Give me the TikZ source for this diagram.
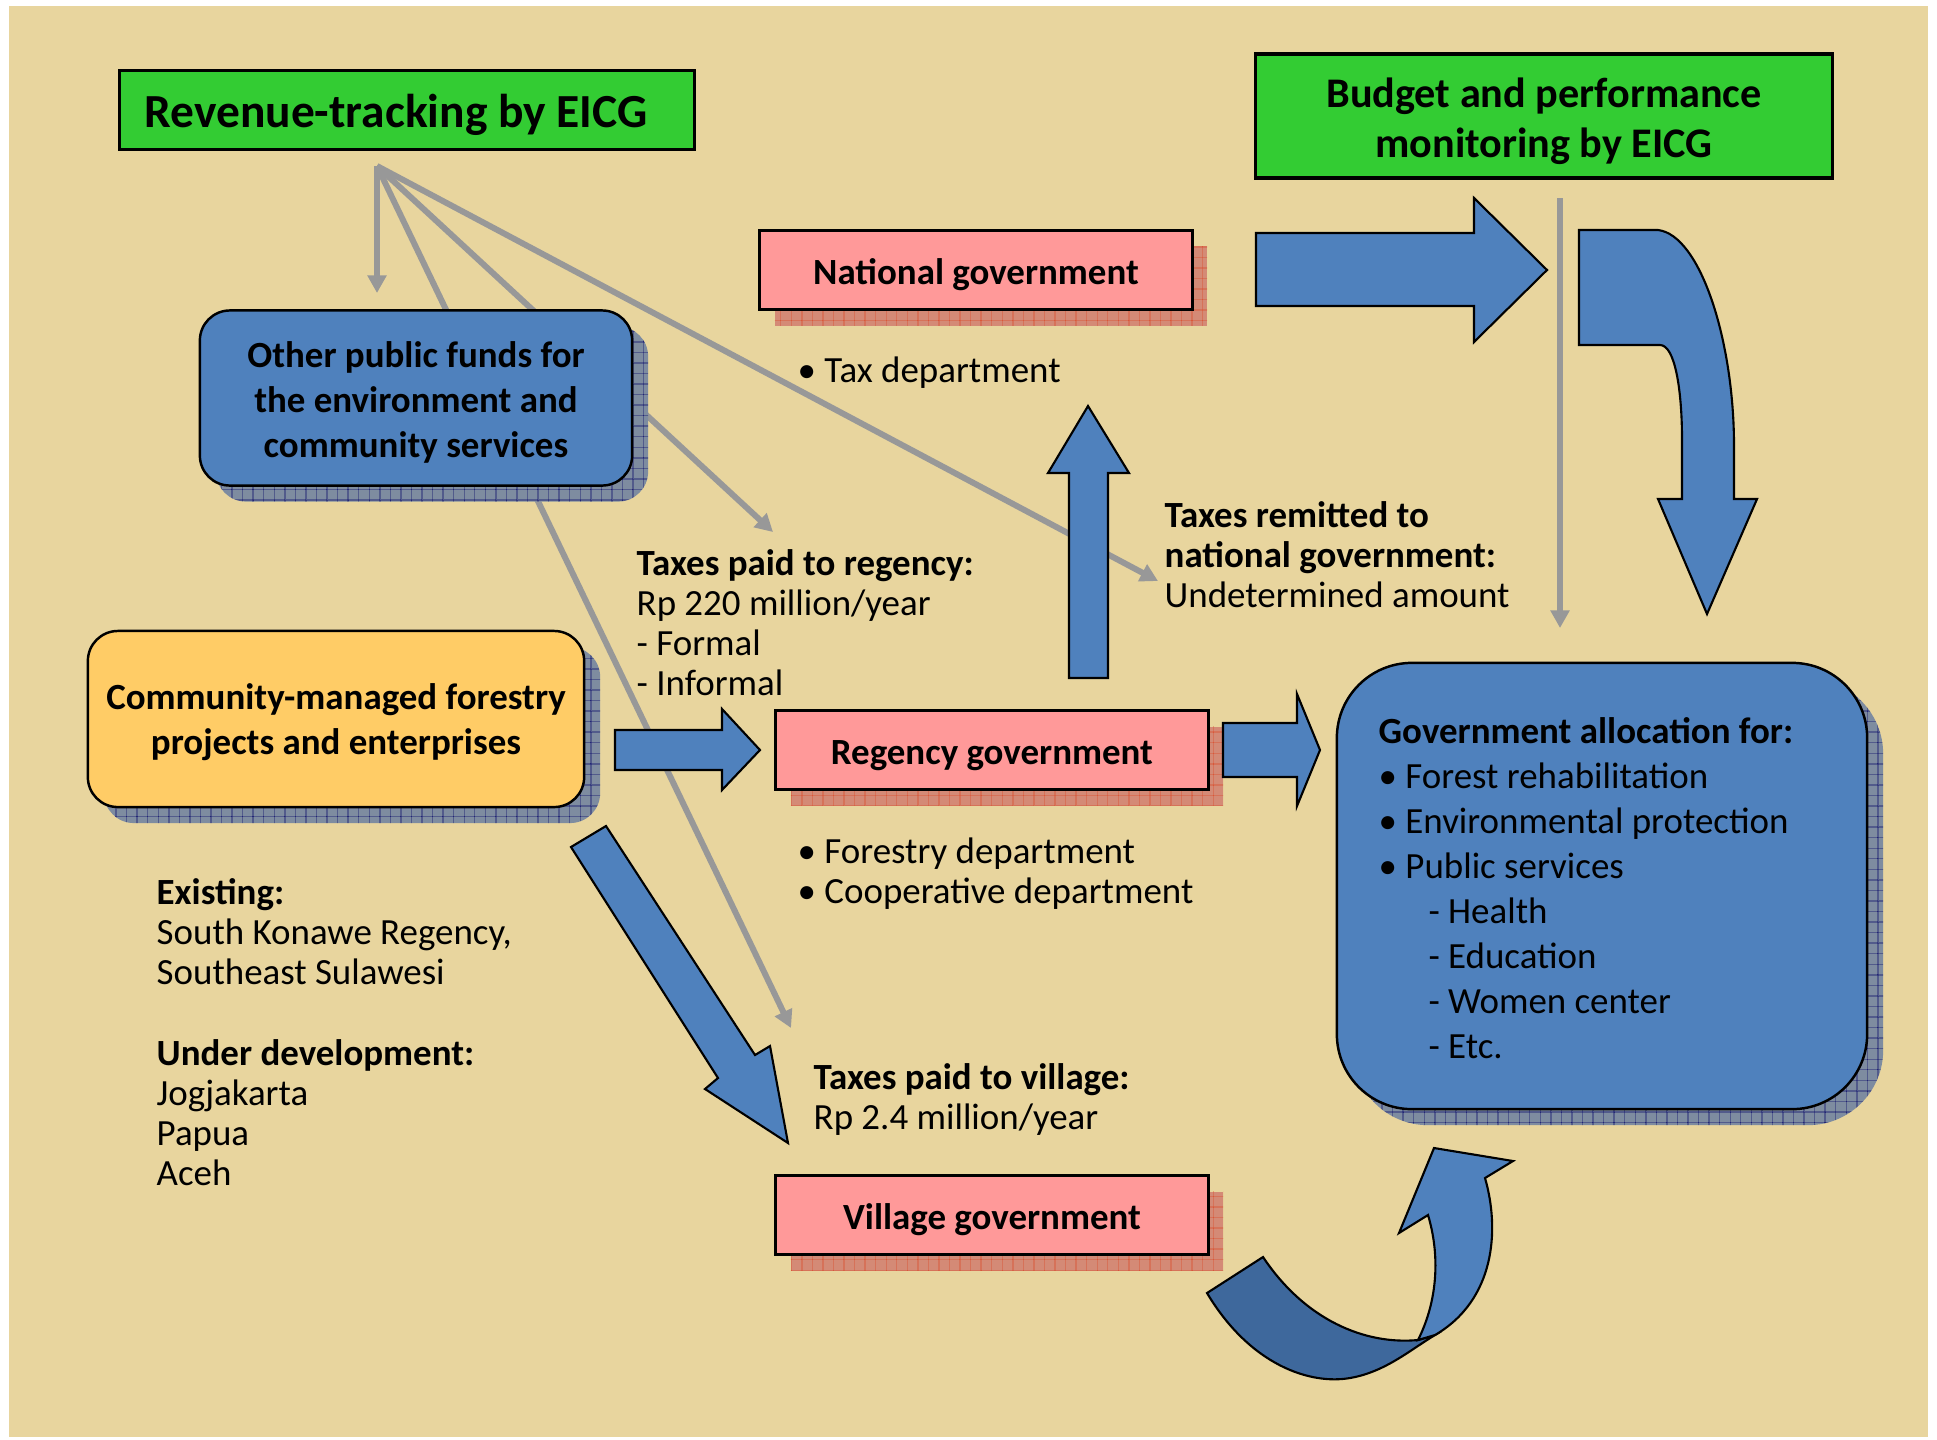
\documentclass[tikz,border=0pt]{standalone}
\usepackage{fontspec}
\setmainfont{Carlito}
\usetikzlibrary{arrows.meta,shadows,patterns}
\definecolor{papyrus}{RGB}{232,213,158}
\definecolor{eicggreen}{RGB}{51,204,51}
\definecolor{govpink}{RGB}{255,153,153}
\definecolor{fundblue}{RGB}{79,129,189}
\definecolor{backblue}{RGB}{62,104,156}
\definecolor{commorange}{RGB}{255,204,102}
\definecolor{trackgray}{RGB}{152,152,152}
\definecolor{pinkshadow}{RGB}{212,138,118}
\definecolor{blueshadow}{RGB}{126,140,160}

\begin{document}
\begin{tikzpicture}[x=0.01cm,y=-0.01cm]
	 \tikzstyle{green box}=[draw,line width=0.9pt,fill=eicggreen,inner sep=0pt,align=center]
	 \tikzstyle{gov box}=[draw,line width=0.9pt,fill=govpink,minimum width=4.32cm,minimum height=0.79cm,inner sep=0pt,font=\bfseries\fontsize{10.5}{12.7}\selectfont,execute at begin node={\rule{0pt}{10.1pt}},drop shadow={shadow xshift=0.15cm,shadow yshift=-0.16cm,fill=pinkshadow,opacity=1},drop shadow={shadow xshift=0.15cm,shadow yshift=-0.16cm,pattern=grid,pattern color=red!45!brown,opacity=0.35}]
	 \tikzstyle{fund box}=[draw,line width=0.7pt,rounded corners=0.3cm,inner sep=0pt,drop shadow={shadow xshift=0.16cm,shadow yshift=-0.16cm,fill=blueshadow,opacity=1},drop shadow={shadow xshift=0.16cm,shadow yshift=-0.16cm,pattern=grid,pattern color=blue!40!black,opacity=0.35}]
	 \tikzstyle{box text}=[inner sep=0pt,align=center,font=\bfseries\fontsize{10.5}{12.7}\selectfont]
	 \tikzstyle{note}=[inner sep=0pt,anchor=north west,align=left,font=\fontsize{10.5}{11.4}\selectfont]
	 \tikzstyle{track}=[draw=trackgray,line width=1.7pt,-{Triangle[length=5pt,width=5.2pt]}]
	 \tikzstyle{block arrow}=[fill=fundblue,draw=black,line width=0.6pt]
	 \useasboundingbox (0,0) rectangle (1937,1439);
	 \fill[papyrus] (9,6) rectangle (1928,1437);
	 \coordinate (fork) at (377,166);
	 \coordinate (oth-in) at (377,293);
	 \coordinate (reg-in) at (773,532);
	 \coordinate (vil-in) at (791,1028);
	 \coordinate (nat-in) at (1158,581);
	 \coordinate (bud-out) at (1560,198);
	 \coordinate (alloc-in) at (1560,628);
	 \draw[track] (fork) -- (oth-in);
	 \draw[track] (fork) -- (reg-in);
	 \draw[track] (fork) -- (vil-in);
	 \draw[track] (fork) -- (nat-in);
	 \draw[track] (bud-out) -- (alloc-in);
	 \node[green box,minimum width=5.75cm,minimum height=0.79cm,font=\bfseries\fontsize{13.5}{16}\selectfont,execute at begin node={\rule{0pt}{12.3pt}}] (rev) at (407,110) {Revenue-tracking by EICG\hspace{0.22cm}};
	 \node[green box,minimum width=5.76cm,minimum height=1.24cm] (bud) at (1544,116) {};
	 \node[box text,font=\bfseries\fontsize{12}{14.2}\selectfont] (bud-txt) at (1544,121.5) {Budget and performance\\monitoring by EICG};
	 \node[gov box] (nat) at (976,270) {National government};
	 \node[gov box] (reg) at (992,750) {Regency government};
	 \node[gov box] (vil) at (992,1215) {Village government};
	 \node[fund box,fill=fundblue,minimum width=4.32cm,minimum height=1.75cm] (oth) at (416,398) {};
	 \node[box text] (oth-txt) at (416,402.5) {Other public funds for\\the environment and\\community services};
	 \node[fund box,fill=commorange,minimum width=4.96cm,minimum height=1.76cm] (com) at (336,719) {};
	 \node[box text] (com-txt) at (336,722) {Community-managed forestry\\projects and enterprises};
	 \node[fund box,fill=fundblue,rounded corners=0.75cm,minimum width=5.3cm,minimum height=4.46cm] (alloc) at (1602,886) {};
	 \filldraw[block arrow] (1256,233) -- (1474,233) -- (1474,198) -- (1547,270) -- (1474,342) -- (1474,306) -- (1256,306) -- cycle;
	 \filldraw[block arrow] (1579,230) -- (1658,230) .. controls (1700,235) and (1734,340) .. (1734,446) -- (1734,499) -- (1757,499) -- (1707,614) -- (1658,499) -- (1682,499) -- (1682,440) .. controls (1682,390) and (1675,345) .. (1660,345) -- (1579,345) -- cycle;
	 \filldraw[block arrow] (1069,678) -- (1069,473) -- (1048,473) -- (1088,406) -- (1129,473) -- (1108,473) -- (1108,678) -- cycle;
	 \filldraw[block arrow] (615,730) -- (722,730) -- (722,709) -- (760,750) -- (722,790) -- (722,770) -- (615,770) -- cycle;
	 \filldraw[block arrow] (1223,723) -- (1297,723) -- (1297,694) -- (1320,750) -- (1297,806) -- (1297,777) -- (1223,777) -- cycle;
	 \filldraw[block arrow] (571,847) -- (606,826) -- (755,1055) -- (770,1046) -- (788,1143) -- (705,1089) -- (718,1078) -- cycle;
	 \filldraw[block arrow,fill=backblue] (1207,1293) .. controls (1250,1365) and (1310,1385) .. (1350,1378) .. controls (1385,1372) and (1410,1350) .. (1435,1335) -- (1418,1340) .. controls (1365,1345) and (1305,1320) .. (1263,1257) -- cycle;
	 \filldraw[block arrow] (1418,1340) .. controls (1438,1300) and (1440,1255) .. (1428,1215) -- (1399,1233) -- (1434,1148) -- (1513,1161) -- (1485,1178) .. controls (1500,1230) and (1495,1300) .. (1435,1335) -- cycle;
	 \node[note] (natdep) at (797,356) {• Tax department};
	 \node[note] (regtax) at (636,549) {\textbf{Taxes paid to regency:}\\Rp 220 million/year\\- Formal\\- Informal};
	 \node[note] (nattax) at (1164,501) {\textbf{Taxes remitted to}\\\textbf{national government:}\\Undetermined amount};
	 \node[note] (regdep) at (797,837) {• Forestry department\\• Cooperative department};
	 \node[note] (viltax) at (813,1063) {\textbf{Taxes paid to village:}\\Rp 2.4 million/year};
	 \node[note] (sites) at (156,878) {\textbf{Existing:}\\South Konawe Regency,\\Southeast Sulawesi\\[11.4pt]\textbf{Under development:}\\Jogjakarta\\Papua\\Aceh};
	 \node[note,font=\fontsize{10.5}{12.8}\selectfont] (alloc-txt) at (1378,717) {\textbf{Government allocation for:}\\• Forest rehabilitation\\• Environmental protection\\• Public services\\\hspace{1.35em}- Health\\\hspace{1.35em}- Education\\\hspace{1.35em}- Women center\\\hspace{1.35em}- Etc.};
\end{tikzpicture}
\end{document}
